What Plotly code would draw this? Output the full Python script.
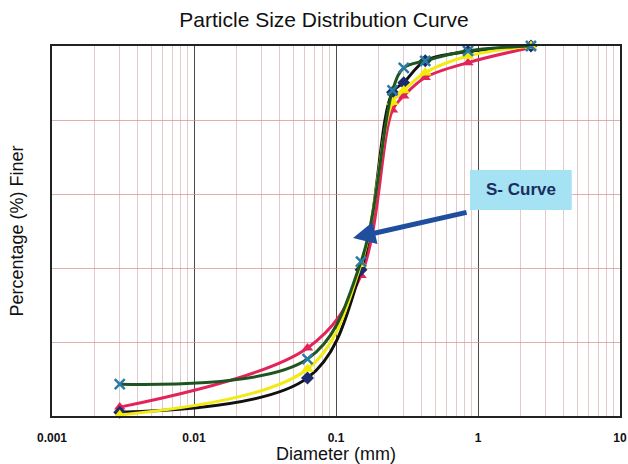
import plotly.graph_objects as go

# Sieve / hydrometer diameters (mm) and percentage finer for each sample
diameter_mm = [0.003, 0.063, 0.15, 0.25, 0.3, 0.425, 0.85, 2.36]

finer_black = [1.0, 10.3, 39.5, 87.5, 90.1, 96.0, 98.5, 100.0]
finer_pink = [2.4, 18.4, 38.0, 82.7, 86.5, 91.5, 95.5, 99.6]
finer_yellow = [0.3, 12.7, 41.0, 84.8, 88.0, 92.8, 97.3, 100.0]
finer_green = [8.6, 15.4, 41.7, 88.0, 94.1, 96.0, 98.7, 100.0]

x_tick_values = [0.001, 0.01, 0.1, 1, 10]
x_tick_labels = ["0.001", "0.01", "0.1", "1", "10"]
y_grid_values = [0, 20, 40, 60, 80, 100]

FONT = "Liberation Sans, Arial, sans-serif"

# minor log grid lines at 2..9 of every decade
minor_vals = [m * d for d in (0.001, 0.01, 0.1, 1) for m in range(2, 10)]

series = [
    # (values, line colour, marker symbol, marker colour, marker size)
    (finer_pink, "#e3245a", "triangle-up", "#e3245a", 10),
    (finer_black, "#101010", "diamond", "#1c2b6b", 10),
    (finer_yellow, "#f2ea12", "triangle-up", "#f4ec00", 11),
    (finer_green, "#1d5420", "x-thin", "#2a7aa6", 10),
]

fig = go.Figure()
for vals, lcol, sym, mcol, msize in series:
    fig.add_trace(go.Scatter(
        x=diameter_mm, y=vals, mode="lines+markers",
        line=dict(color=lcol, width=3, shape="spline", smoothing=1.0),
        marker=dict(symbol=sym, size=msize, color=mcol,
                    line=dict(color=mcol, width=2.5 if sym == "x-thin" else 0)),
        cliponaxis=False, showlegend=False,
    ))

fig.update_layout(
    width=628, height=464,
    margin=dict(l=52, r=8, t=46, b=48),
    paper_bgcolor="white", plot_bgcolor="white",
    font=dict(family=FONT, color="#111"),
    title=dict(text="Particle Size Distribution Curve", x=0.516, xanchor="center",
               y=0.957, yanchor="middle", yref="container",
               font=dict(size=21, family=FONT, color="#111")),
    xaxis=dict(
        type="log", range=[-3, 1],
        tickvals=x_tick_values, ticktext=x_tick_labels,
        tickfont=dict(size=12, family=FONT, color="#111", weight="bold"),
        ticks="", ticklabelstandoff=10,
        showgrid=True, gridcolor="#4a4a4a", gridwidth=1.2,
        minor=dict(tickvals=minor_vals, showgrid=True,
                   gridcolor="rgba(200,150,150,0.5)", gridwidth=1, ticks=""),
        showline=True, mirror=True, linecolor="#222", linewidth=1.5,
        zeroline=False,
        title=dict(text="Diameter (mm)", standoff=4,
                   font=dict(size=18, family=FONT, color="#111")),
        automargin=False,
    ),
    yaxis=dict(
        range=[0, 100], tickvals=y_grid_values, showticklabels=False, ticks="",
        showgrid=True, gridcolor="rgba(215,140,140,0.7)", gridwidth=1,
        showline=True, mirror=True, linecolor="#222", linewidth=1.5,
        zeroline=False,
        title=dict(text="Percentage (%) Finer", standoff=22,
                   font=dict(size=18, family=FONT, color="#111")),
        automargin=False,
    ),
)

# "S- Curve" call-out box with arrow pointing at the steep part of the curves
fig.add_shape(type="rect", xref="paper", yref="paper",
              x0=0.736, x1=0.915, y0=0.557, y1=0.665,
              fillcolor="#a4e2f4", line=dict(width=0), layer="above")
fig.add_annotation(xref="paper", yref="paper", x=0.8255, y=0.613,
                   xanchor="center", yanchor="middle",
                   text="<b>S- Curve</b>", showarrow=False,
                   font=dict(size=17, family=FONT, color="#1b2d5e"))
fig.add_annotation(xref="paper", yref="paper", x=0.530, y=0.481,
                   ax=115, ay=-26, axref="pixel", ayref="pixel", text="",
                   showarrow=True, arrowhead=2, arrowsize=0.9, arrowwidth=5,
                   arrowcolor="#1f4e9e")

fig.write_html("out.html")
